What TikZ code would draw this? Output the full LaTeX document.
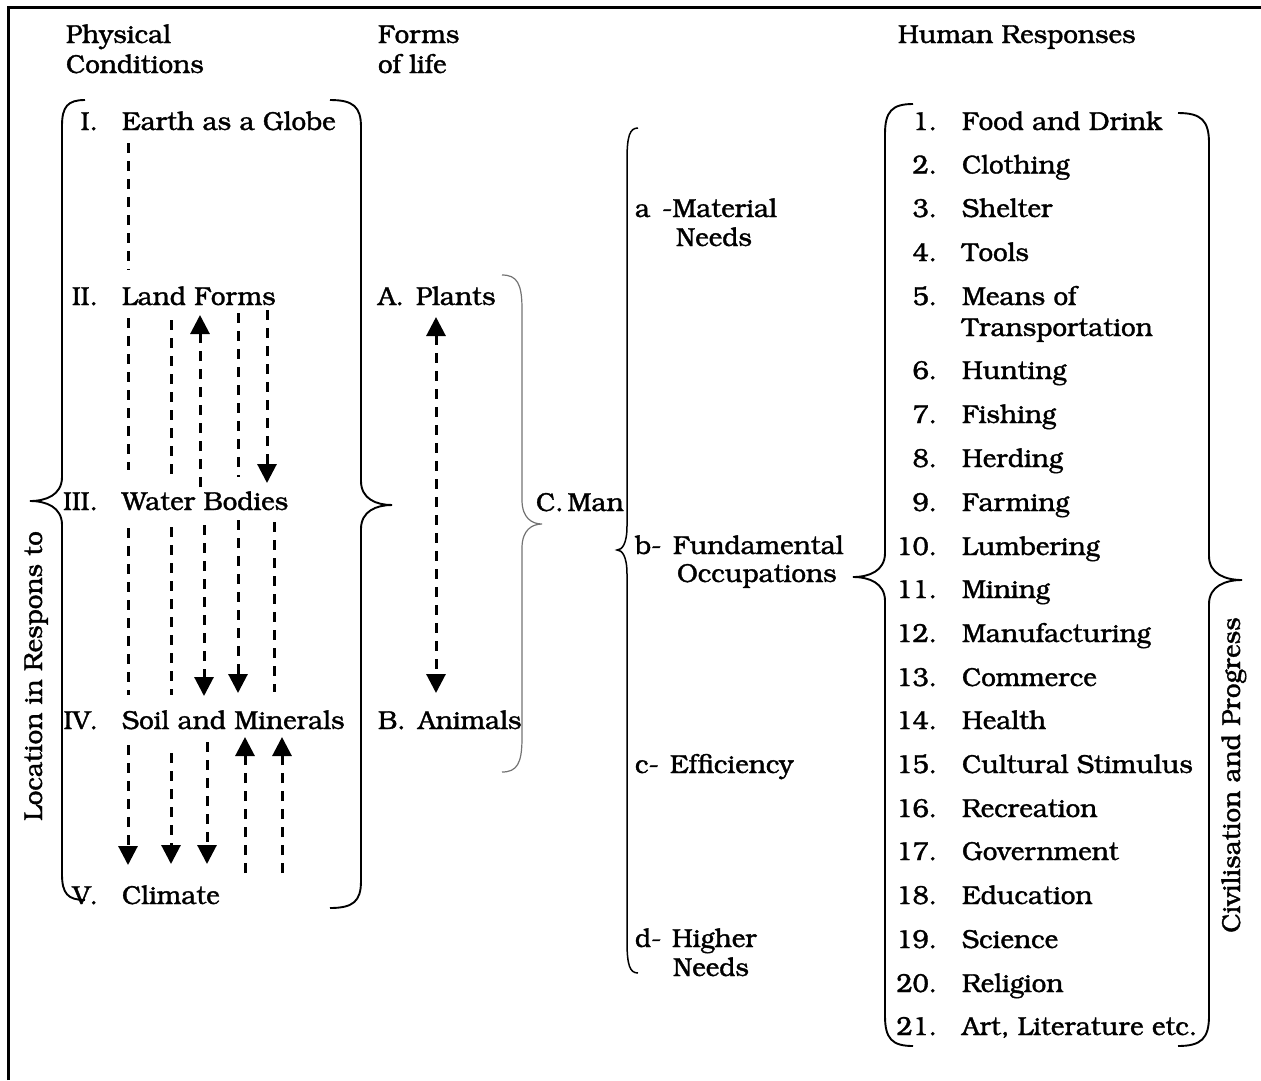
\documentclass[tikz,border=0pt]{standalone}
\usepackage[T1]{fontenc}
\usepackage{bookman}
\usetikzlibrary{arrows.meta}
\newcommand{\brc}[8]{% style, xe, xv, xt, ytop, ycusp, ybot, corner
  \draw[#1] (#2,#5) .. controls ({#2+0.75*(#3-#2)},#5) and (#3,{#5+0.25*#8}) .. (#3,{#5+#8})
   -- (#3,#6-24) .. controls (#3,#6-6) and ({#4+0.5*(#3-#4)},#6) .. (#4,#6)
   .. controls ({#4+0.5*(#3-#4)},#6) and (#3,#6+6) .. (#3,#6+24)
   -- (#3,{#7-#8}) .. controls (#3,{#7-0.25*#8}) and ({#2+0.75*(#3-#2)},#7) .. (#2,#7);}
\newcommand{\heavier}{\special{pdf:literal direct 2 Tr 0.35 w}}
\begin{document}
\begin{tikzpicture}[x=1pt,y=-1pt,
  txt/.style={anchor=base west,inner sep=0pt,outer sep=0pt,font=\fontsize{26}{32}\selectfont\heavier},
  nr/.style={anchor=base east,inner sep=0pt,outer sep=0pt,font=\fontsize{26}{32}\selectfont\heavier},
  rot/.style={anchor=base,inner sep=0pt,outer sep=0pt,rotate=90,font=\fontsize{26}{32}\selectfont\heavier},
  dl/.style={line width=3pt,dash pattern=on 10pt off 8pt},
  plain/.style={},
  dn/.style={-{Triangle[width=19pt,length=19pt]}},
  both/.style={{Triangle[width=19pt,length=19pt]}-{Triangle[width=19pt,length=19pt]}},
  brace/.style={line width=1.9pt},
  thinbrace/.style={line width=1.5pt},
  greybrace/.style={line width=1.2pt,black!55},
  frame/.style={line width=3pt}]
\useasboundingbox (0,0) rectangle (1261,1080);
\draw[frame] (8,1080) -- (8,7) -- (1261,7);

% headers
\node[txt] (hpc1) at (66,43) {Physical};
\node[txt] (hpc2) at (66,73) {Conditions};
\node[txt] (hfl1) at (378,43) {Forms};
\node[txt] (hfl2) at (378,73) {of life};
\node[txt] (hhr) at (898,43) {Human Responses};

% physical conditions
\node[nr] (r1) at (98,130) {I.};   \node[txt] (p1) at (122,130) {Earth as a Globe};
\node[nr] (r2) at (98,305) {II.};  \node[txt] (p2) at (122,305) {Land Forms};
\node[nr] (r3) at (98,510) {III.}; \node[txt] (p3) at (122,510) {Water Bodies};
\node[nr] (r4) at (98,729) {IV.};  \node[txt] (p4) at (122,729) {Soil and Minerals};
\node[nr] (r5) at (98,904) {V.};   \node[txt] (p5) at (122,904) {Climate};

% forms of life
\node[txt] (la) at (378,305) {A.}; \node[txt] (pa) at (416,305) {Plants};
\node[txt] (lb) at (378,729) {B.}; \node[txt] (pb) at (418,729) {Animals};
\node[txt] (man) at (536,511) {C.\kern4pt Man};

% needs
\node[txt] (na1) at (635,217) {a}; \node[txt] (na2) at (662,217) {-Material}; \node[txt] (na3) at (676,246) {Needs};
\node[txt] (nb1) at (635,554) {b-}; \node[txt] (nb2) at (673,554) {Fundamental}; \node[txt] (nb3) at (677,582) {Occupations};
\node[txt] (nc1) at (635,773) {c-}; \node[txt] (nc2) at (670,773) {Efficiency};
\node[txt] (nd1) at (635,947) {d-}; \node[txt] (nd2) at (672,947) {Higher}; \node[txt] (nd3) at (673,976) {Needs};

% human responses
\foreach \k/\yy/\t in {1/130/Food and Drink, 2/173.5/Clothing, 3/217/Shelter, 4/261/Tools, 5/305/Means of,
  6/379/Hunting, 7/423/Fishing, 8/467/Herding, 9/511/Farming, 10/555/Lumbering, 11/598/Mining,
  12/642/Manufacturing, 13/686/Commerce, 14/729/Health, 15/773/Cultural Stimulus, 16/817/Recreation,
  17/860/Government, 18/904/Education, 19/948/Science, 20/992/Religion, 21/1035/{Art, Literature etc.}}{
  \node[nr] (hn\k) at (937,\yy) {\k.};
  \node[txt] (ht\k) at (962,\yy) {\t};
}
\node[txt] (ht5b) at (962,336) {Transportation};

% rotated labels
\node[rot] (loc) at (42,676) {Location in Respons to};
\node[rot] (civ) at (1240,775) {Civilisation and Progress};

% braces
\brc{brace}{85}{62}{30}{100}{501}{900}{26}
\brc{brace}{330}{361}{392}{100}{505}{908}{27}
\brc{greybrace}{502}{522}{542}{275}{524}{772}{34}
\brc{thinbrace}{638}{627}{617}{128}{550}{973}{32}
\brc{brace}{913}{885}{853}{104}{577}{1046}{30}
\brc{brace}{1178}{1209}{1242}{113}{580}{1046}{30}

% dashed connectors
\foreach \n/\xx/\ya/\yb/\st in {1/128/143/270/plain,
  2/128/318/470/plain, 3/171/320/477/plain, 4/200/487/315/dn, 5/238/313/477/plain, 6/267/310/483/dn,
  7/128/528/695/plain, 8/171/527/695/plain, 9/204/525/696/dn, 10/238/520/693/dn, 11/274/522/692/plain,
  12/128/745/865/dn, 13/171/753/864/dn, 14/207/742/864/dn, 15/245/873/737/dn, 16/282/873/737/dn,
  17/436/317/693/both}{
  \coordinate (s\n) at (\xx,\ya);
  \coordinate (e\n) at (\xx,\yb);
  \draw[dl,\st] (s\n) -- (e\n);
}
\end{tikzpicture}
\end{document}
